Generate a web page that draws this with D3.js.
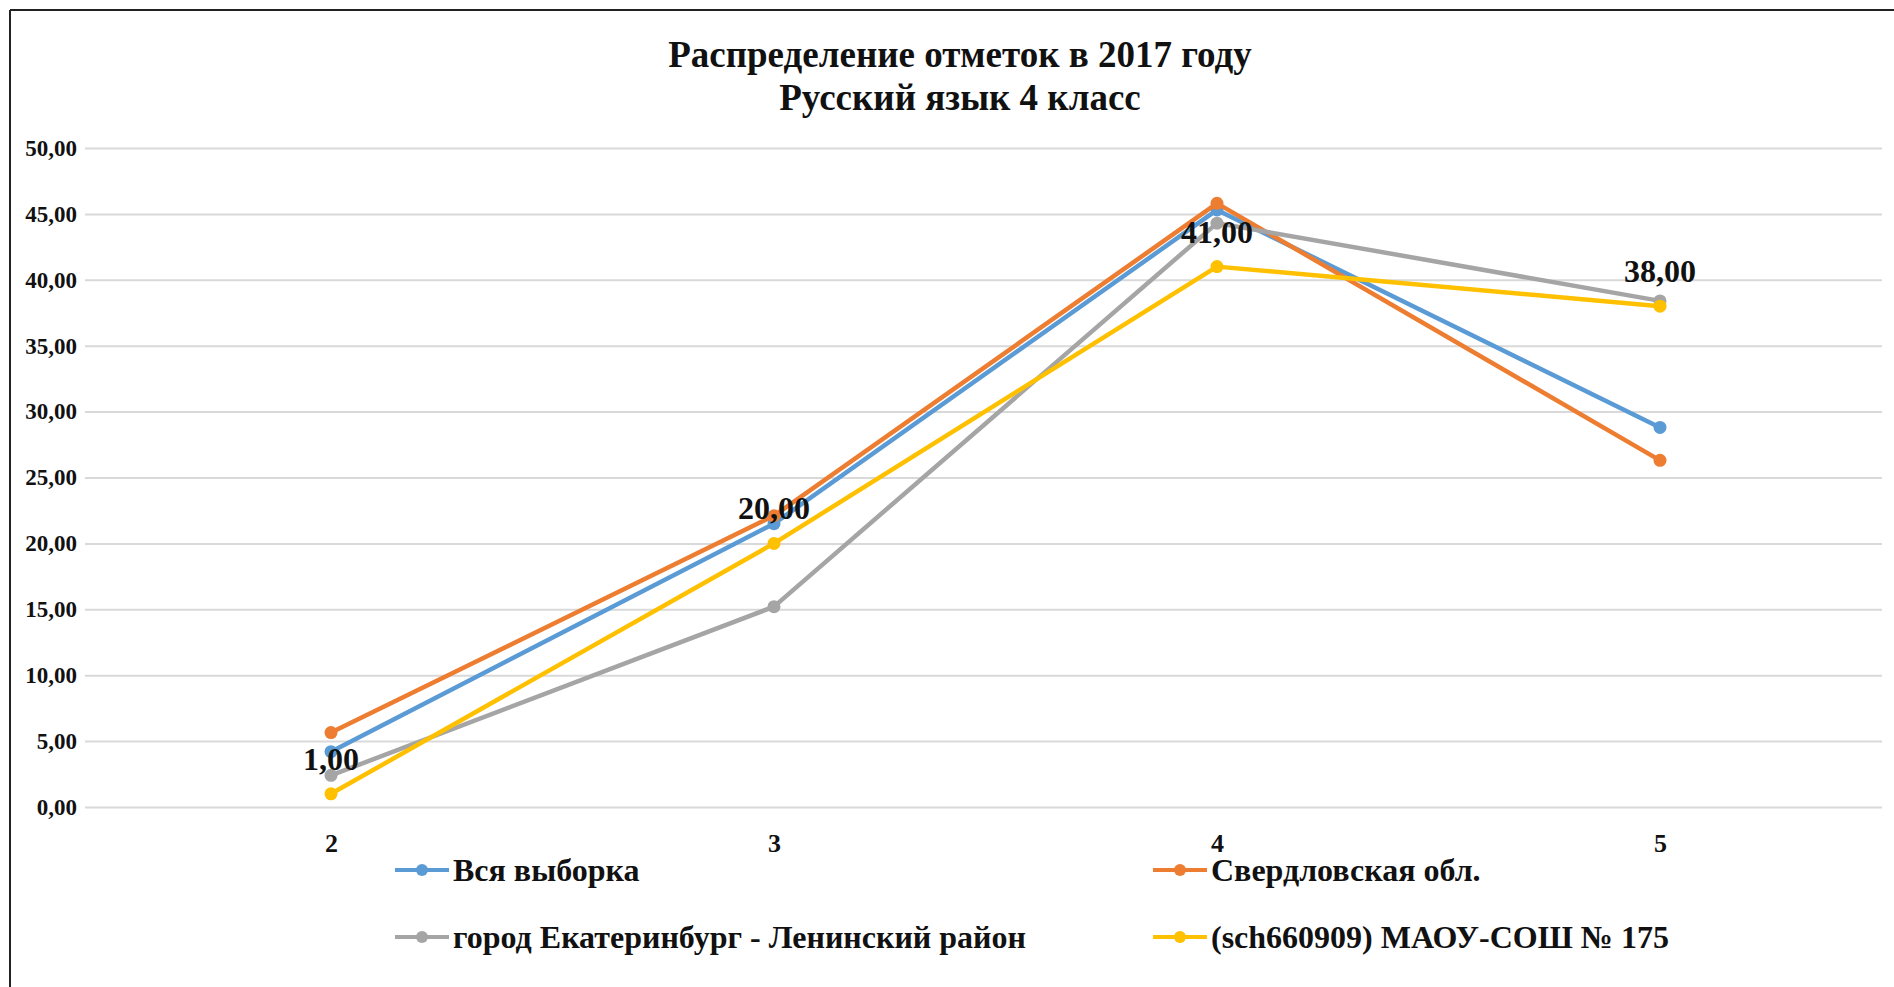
<!DOCTYPE html>
<html>
<head>
<meta charset="utf-8">
<script src="https://cdn.jsdelivr.net/npm/d3@7"></script>
<style>
  body { margin: 0; background: #fff; }
  text { font-family: "Liberation Serif", "Times New Roman", serif; font-weight: bold; fill: #111; }
</style>
</head>
<body>
<div id="chart"></div>
<script>
var width = 1894, height = 987;

// chart data
var titleLines = ["Распределение отметок в 2017 году", "Русский язык 4 класс"];
var marks = ["2", "3", "4", "5"];
var yTicks = [0, 5, 10, 15, 20, 25, 30, 35, 40, 45, 50];
var seriesNames = ["Вся выборка", "Свердловская обл.", "город Екатеринбург - Ленинский район", "(sch660909) МАОУ-СОШ № 175"];
var seriesColors = ["#5B9BD5", "#ED7D31", "#A5A5A5", "#FFC000"];
var allSample = [4.2, 21.5, 45.3, 28.8];
var sverdlovsk = [5.65, 22.1, 45.8, 26.3];
var leninsky = [2.4, 15.2, 44.3, 38.4];
var school175 = [1, 20, 41, 38];
var labelledSeries = 3; // only the school line has data labels

function init() {
  var seriesValues = [allSample, sverdlovsk, leninsky, school175];

  var svg = d3.select("#chart")
              .append("svg")
              .attr("width", width)
              .attr("height", height);

  // frame (top and left edge only are visible)
  svg.append("line").attr("x1", 10).attr("y1", 10).attr("x2", width).attr("y2", 10)
     .attr("stroke", "#222").attr("stroke-width", 2);
  svg.append("line").attr("x1", 10).attr("y1", 10).attr("x2", 10).attr("y2", height)
     .attr("stroke", "#222").attr("stroke-width", 2);

  // title
  svg.selectAll(".title")
     .data(titleLines)
     .enter()
     .append("text")
     .attr("class", "title")
     .attr("x", 960)
     .attr("y", function(d, i) { return 67 + i * 43; })
     .attr("text-anchor", "middle")
     .style("font-size", "37px")
     .text(function(d) { return d; });

  var x = d3.scalePoint().domain(marks).range([331, 1660]);
  var y = d3.scaleLinear().domain([0, 50]).range([807, 148]);
  var fmt = function(v) { return d3.format(".2f")(v).replace(".", ","); };

  // grid lines
  svg.append("g")
     .attr("transform", "translate(85,0)")
     .call(d3.axisLeft(y).tickValues(yTicks).tickSize(-(1882 - 85)).tickFormat(""))
     .call(function(g) {
       g.select(".domain").remove();
       g.selectAll(".tick line").attr("stroke", "#d9d9d9").attr("stroke-width", 2);
     });

  // y axis labels
  svg.append("g")
     .attr("transform", "translate(80,0)")
     .call(d3.axisLeft(y).tickValues(yTicks).tickSize(0).tickFormat(fmt))
     .call(function(g) {
       g.select(".domain").remove();
       g.selectAll("text").style("font-size", "23px").attr("fill", "#111")
        .attr("font-family", null);
     });

  // x axis labels
  svg.append("g")
     .attr("transform", "translate(0,831)")
     .call(d3.axisBottom(x).tickSize(0))
     .call(function(g) {
       g.select(".domain").remove();
       g.selectAll("text").style("font-size", "26px").attr("fill", "#111")
        .attr("font-family", null);
     });

  var line = d3.line()
               .x(function(d, i) { return x(marks[i]); })
               .y(function(d) { return y(d); });

  seriesValues.forEach(function(vals, s) {
    svg.append("path")
       .datum(vals)
       .attr("d", line)
       .attr("fill", "none")
       .attr("stroke", seriesColors[s])
       .attr("stroke-width", 4.5)
       .attr("stroke-linejoin", "round");
    svg.selectAll(".pt" + s)
       .data(vals)
       .enter()
       .append("circle")
       .attr("class", "pt" + s)
       .attr("cx", function(d, i) { return x(marks[i]); })
       .attr("cy", function(d) { return y(d); })
       .attr("r", 6.5)
       .attr("fill", seriesColors[s]);
  });

  // data labels on the school line
  svg.selectAll(".dlabel")
     .data(seriesValues[labelledSeries])
     .enter()
     .append("text")
     .attr("class", "dlabel")
     .attr("x", function(d, i) { return x(marks[i]); })
     .attr("y", function(d) { return y(d) - 24; })
     .attr("text-anchor", "middle")
     .style("font-size", "32px")
     .text(function(d) { return fmt(d); });

  // legend, two columns and two rows
  var legX = [395, 1153], legY = [870, 937];
  seriesNames.forEach(function(name, s) {
    var lx = legX[s % 2], ly = legY[Math.floor(s / 2)];
    var g = svg.append("g").attr("transform", "translate(" + lx + "," + ly + ")");
    g.append("line").attr("x1", 0).attr("x2", 54).attr("y1", 0).attr("y2", 0)
     .attr("stroke", seriesColors[s]).attr("stroke-width", 4);
    g.append("circle").attr("cx", 27).attr("cy", 0).attr("r", 6).attr("fill", seriesColors[s]);
    g.append("text").attr("x", 58).attr("y", 11).style("font-size", "32px").text(name);
  });
}

window.onload = init;
</script>
</body>
</html>
